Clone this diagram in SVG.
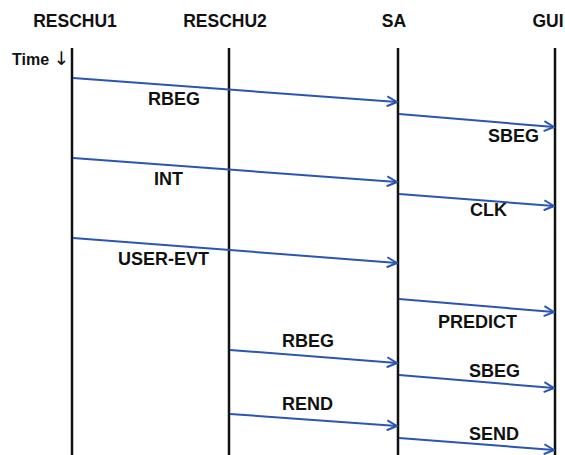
<svg xmlns="http://www.w3.org/2000/svg" width="565" height="455" viewBox="0 0 565 455">
<style>
text{font-family:"Liberation Sans",Arial,sans-serif;font-weight:bold;fill:#111;}
.hdr{font-size:17.5px;text-anchor:middle;}
.lbl{font-size:18px;}
.life{stroke:#111;stroke-width:2.5;}
.msg{stroke:#2b55b3;stroke-width:2;fill:none;marker-end:url(#ah);}
</style>
<defs>
<marker id="ah" viewBox="0 0 12 12" refX="11" refY="6" markerWidth="12" markerHeight="12" markerUnits="userSpaceOnUse" orient="auto">
<path d="M1,1 L11,6 L1,11" fill="none" stroke="#2b55b3" stroke-width="2"/>
</marker>
</defs>
<rect width="565" height="455" fill="#fff"/>
<g id="RESCHU1"><text class="hdr" x="75" y="27">RESCHU1</text><line class="life" x1="72" y1="48" x2="72" y2="455"/></g>
<g id="RESCHU2"><text class="hdr" x="225" y="27">RESCHU2</text><line class="life" x1="229" y1="48" x2="229" y2="455"/></g>
<g id="SA"><text class="hdr" x="394" y="27">SA</text><line class="life" x1="398" y1="48" x2="398" y2="455"/></g>
<g id="GUI"><text class="hdr" x="548" y="27">GUI</text><line class="life" x1="555" y1="48" x2="555" y2="455"/></g>
<g id="time"><text x="12" y="65" style="font-size:16px">Time <tspan style="font-size:19px;font-weight:normal;font-family:'DejaVu Sans',sans-serif">↓</tspan></text></g>
<g id="connectors">
<line class="msg" x1="73" y1="78" x2="397" y2="102"/>
<line class="msg" x1="399" y1="114" x2="554" y2="127"/>
<line class="msg" x1="73" y1="158" x2="397" y2="182"/>
<line class="msg" x1="399" y1="194" x2="554" y2="206"/>
<line class="msg" x1="73" y1="238" x2="397" y2="263"/>
<line class="msg" x1="399" y1="299" x2="554" y2="312"/>
<line class="msg" x1="230" y1="350" x2="397" y2="363"/>
<line class="msg" x1="399" y1="375" x2="554" y2="388"/>
<line class="msg" x1="230" y1="414" x2="397" y2="426"/>
<line class="msg" x1="399" y1="438" x2="554" y2="450"/>
</g>
<g id="labels">
<text class="lbl" x="148" y="105">RBEG</text>
<text class="lbl" x="488" y="142">SBEG</text>
<text class="lbl" x="154" y="185">INT</text>
<text class="lbl" x="470" y="216">CLK</text>
<text class="lbl" x="118" y="265">USER-EVT</text>
<text class="lbl" x="438" y="328">PREDICT</text>
<text class="lbl" x="282" y="347">RBEG</text>
<text class="lbl" x="469" y="377">SBEG</text>
<text class="lbl" x="282" y="410">REND</text>
<text class="lbl" x="469" y="440">SEND</text>
</g>
</svg>
